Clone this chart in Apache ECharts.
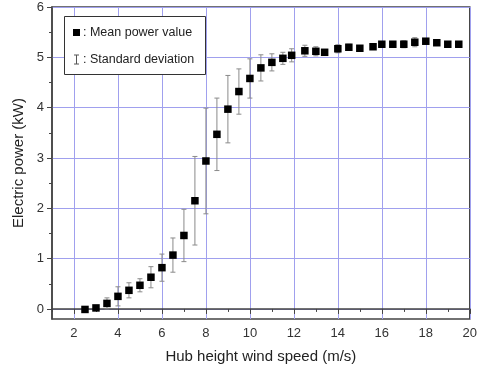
<!DOCTYPE html>
<html>
<head>
<meta charset="utf-8">
<script src="https://cdn.jsdelivr.net/npm/echarts@6/dist/echarts.min.js"></script>
<style>html,body{margin:0;padding:0;background:#fff}#c{width:480px;height:372px}</style>
</head>
<body>
<div id="c"></div>
<script>
const windSpeed = [2.5,3,3.5,4,4.5,5,5.5,6,6.5,7,7.5,8,8.5,9,9.5,10,10.5,11,11.5,11.9,12.5,13,13.4,14,14.5,15,15.6,16,16.5,17,17.5,18,18.5,19,19.5];
const meanPower = [-0.01,0.02,0.11,0.25,0.37,0.47,0.63,0.82,1.07,1.46,2.15,2.94,3.47,3.97,4.32,4.58,4.79,4.90,4.98,5.04,5.13,5.12,5.10,5.17,5.20,5.18,5.21,5.26,5.26,5.26,5.30,5.32,5.29,5.26,5.26];
const stdDev = [0.02,0.03,0.11,0.19,0.15,0.13,0.21,0.27,0.34,0.52,0.88,1.05,0.72,0.67,0.45,0.39,0.26,0.17,0.12,0.13,0.11,0.09,0.04,0.08,0.06,0.04,0.04,0.05,0.04,0.07,0.09,0.04,0.03,0.03,0.03];
const xMajorTicks = [2,4,6,8,10,12,14,16,18,20];
const xMinorTicks = [1,3,5,7,9,11,13,15,17,19];
const yMajorTicks = [0,1,2,3,4,5,6];
const yMinorTicks = [0.5,1.5,2.5,3.5,4.5,5.5];

const meanData = windSpeed.map((x,i)=>[x, meanPower[i]]);
const errData = windSpeed.map((x,i)=>[x, meanPower[i]-stdDev[i], meanPower[i]+stdDev[i]]);

const font = 'Liberation Sans, Arial, sans-serif';
const gridColor = '#a0a0ee';
const chart = echarts.init(document.getElementById('c'));
chart.setOption({
  animation:false,
  grid:{left:52,right:7,top:7,bottom:53,show:true,borderColor:'#444',borderWidth:1.5,backgroundColor:'transparent'},
  xAxis:[{
    type:'value',min:1,max:20,
    name:'Hub height wind speed (m/s)',nameLocation:'middle',nameGap:30,
    nameTextStyle:{fontFamily:font,fontSize:15,color:'#222'},
    axisLine:{show:true,lineStyle:{color:'#444',width:1.5}},
    axisTick:{show:true,length:5,customValues:xMajorTicks,lineStyle:{color:'#444'}},
    axisLabel:{customValues:xMajorTicks,fontFamily:font,fontSize:13,color:'#333',margin:8},
    splitLine:{show:true,lineStyle:{color:gridColor,width:1}}
  },{
    type:'value',min:1,max:20,position:'bottom',
    axisLine:{show:false},
    axisTick:{show:true,length:3,customValues:xMinorTicks,lineStyle:{color:'#444'}},
    axisLabel:{show:false},splitLine:{show:false}
  }],
  yAxis:[{
    type:'value',min:-0.2,max:6,
    name:'Electric power (kW)',nameLocation:'middle',nameGap:26,
    nameTextStyle:{fontFamily:font,fontSize:15,color:'#222'},
    axisLine:{show:true,lineStyle:{color:'#444',width:1.5}},
    axisTick:{show:true,length:5,customValues:yMajorTicks,lineStyle:{color:'#444'}},
    axisLabel:{customValues:yMajorTicks,fontFamily:font,fontSize:13,color:'#333',margin:8},
    splitLine:{show:true,lineStyle:{color:gridColor,width:1}}
  },{
    type:'value',min:-0.2,max:6,position:'left',
    axisLine:{show:false},
    axisTick:{show:true,length:3,customValues:yMinorTicks,lineStyle:{color:'#444'}},
    axisLabel:{show:false},splitLine:{show:false}
  }],
  series:[{
    type:'custom',
    data:errData,
    encode:{x:0,y:[1,2]},
    renderItem:function(params,api){
      const x=api.value(0), lo=api.value(1), hi=api.value(2);
      const p1=api.coord([x,hi]), p2=api.coord([x,lo]);
      const w=2.5;
      const st={stroke:'#8a8a8a',lineWidth:1};
      return {type:'group',children:[
        {type:'line',shape:{x1:p1[0],y1:p1[1],x2:p2[0],y2:p2[1]},style:st},
        {type:'line',shape:{x1:p1[0]-w,y1:p1[1],x2:p1[0]+w,y2:p1[1]},style:st},
        {type:'line',shape:{x1:p2[0]-w,y1:p2[1],x2:p2[0]+w,y2:p2[1]},style:st}
      ]};
    },
    z:2
  },{
    type:'scatter',data:meanData,symbol:'rect',symbolSize:7.5,
    itemStyle:{color:'#000',opacity:1},z:3
  }],
  graphic:[
    {type:'rect',shape:{x:64.5,y:16.5,width:141,height:58},style:{fill:'#fff',stroke:'#333',lineWidth:1},z:10},
    {type:'rect',shape:{x:73,y:29,width:7,height:7},style:{fill:'#000'},z:11},
    {type:'text',x:83,y:32.5,style:{text:': Mean power value',fontFamily:font,fontSize:12.5,fill:'#222',verticalAlign:'middle'},z:11},
    {type:'line',shape:{x1:76.5,y1:55,x2:76.5,y2:64},style:{stroke:'#555',lineWidth:1},z:11},
    {type:'line',shape:{x1:74,y1:55,x2:79,y2:55},style:{stroke:'#555',lineWidth:1},z:11},
    {type:'line',shape:{x1:74,y1:64,x2:79,y2:64},style:{stroke:'#555',lineWidth:1},z:11},
    {type:'text',x:83,y:59.5,style:{text:': Standard deviation',fontFamily:font,fontSize:12.5,fill:'#222',verticalAlign:'middle'},z:11}
  ]
});
</script>
</body>
</html>
